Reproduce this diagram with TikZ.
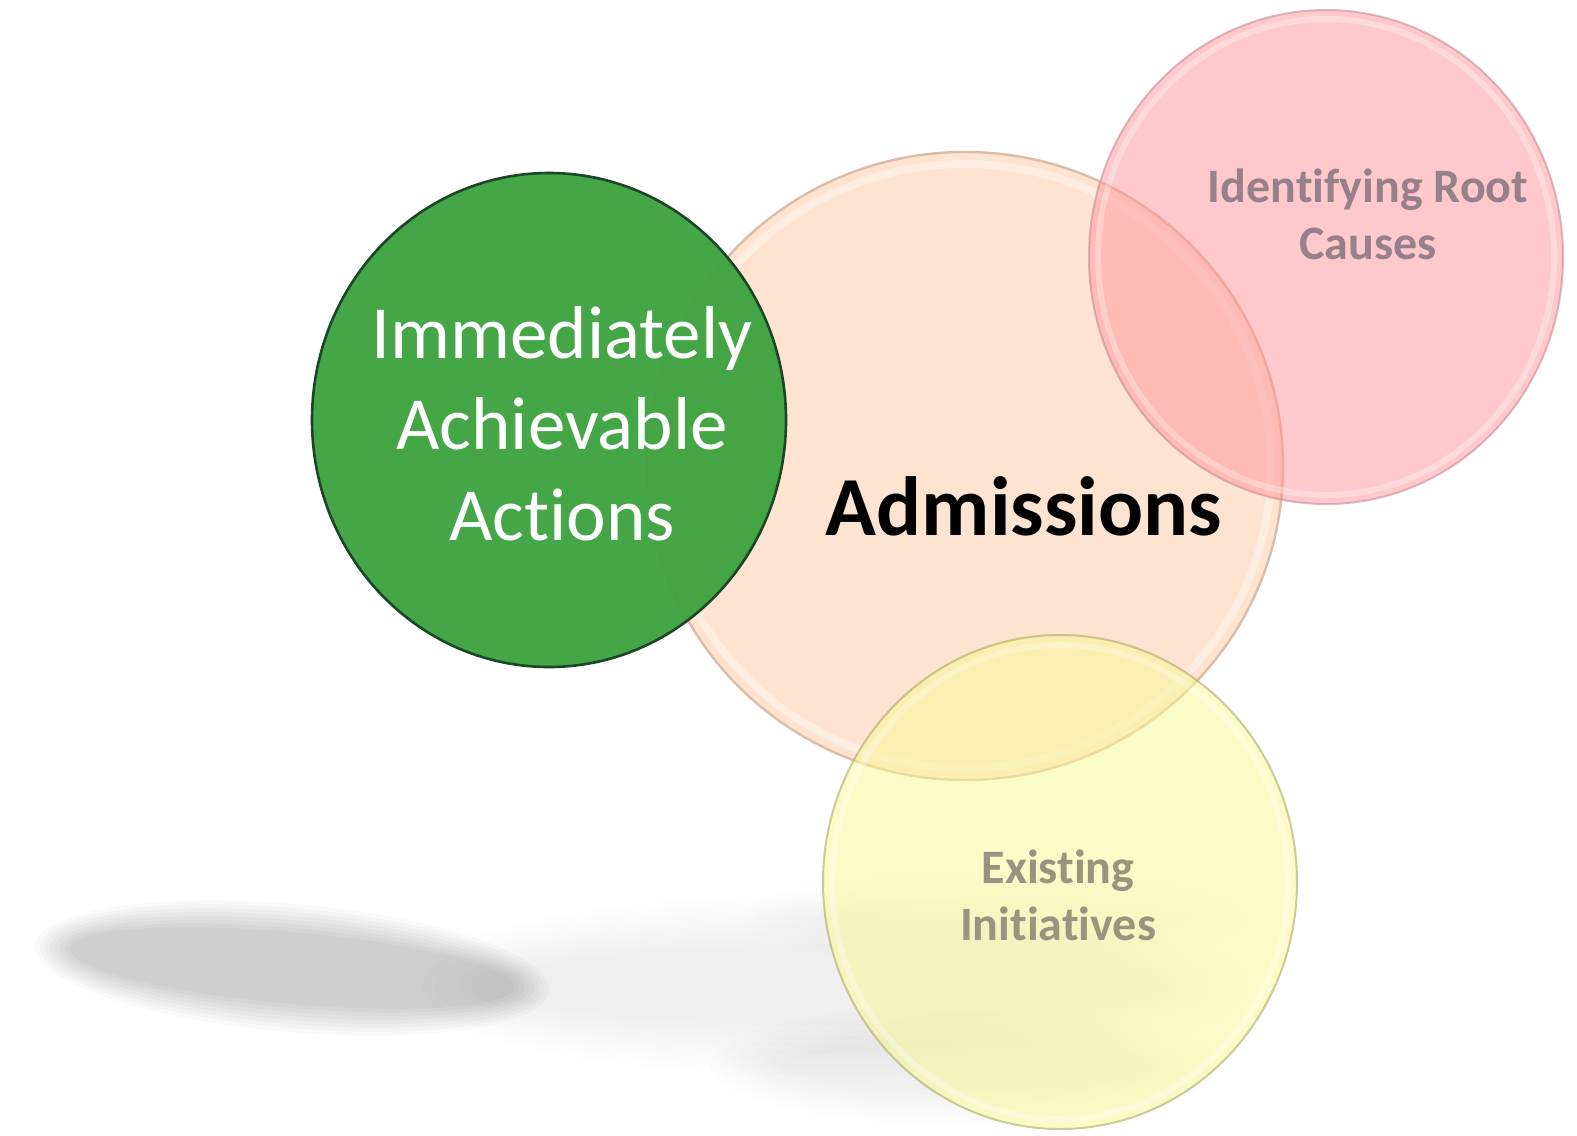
\documentclass[tikz,border=0pt]{standalone}
\usepackage{fontspec}
\setmainfont[Ligatures=NoCommon]{Carlito}
\usetikzlibrary{shapes.geometric}
\definecolor{peach}{RGB}{253,227,208}
\definecolor{peachedge}{RGB}{220,188,168}
\definecolor{pinkfill}{RGB}{255,147,151}
\definecolor{pinkedge}{RGB}{200,140,150}
\definecolor{yelfill}{RGB}{249,249,145}
\definecolor{yeledge}{RGB}{170,170,100}
\definecolor{grn}{RGB}{60,162,62}
\definecolor{grnedge}{RGB}{28,70,40}
\definecolor{pinktext}{RGB}{150,128,138}
\definecolor{yeltext}{RGB}{150,150,128}
\tikzset{
  bubble/.style={ellipse, inner sep=0pt, minimum width=237pt, minimum height=247pt},
  bigbubble/.style={ellipse, inner sep=0pt, minimum width=318pt, minimum height=314pt},
  softshadow/.style={fill=black, draw=none, opacity=#1},
  lbl/.style={align=center, inner sep=0pt}
}
\begin{document}
\begin{tikzpicture}[x=0.5pt,y=-0.5pt]
\useasboundingbox (0,0) rectangle (1577,1135);
\fill[white] (0,0) rectangle (1577,1135);
% soft shadows
\foreach \k in {0,...,7}{
  \fill[softshadow=0.006] (830,985) ellipse ({420-\k*12} and {90-\k*7});
  \fill[softshadow=0.005] (1000,918) ellipse ({255-\k*10} and {52-\k*5});
  \fill[softshadow=0.006] (965,1065) ellipse ({255-\k*10} and {60-\k*5});
}
\foreach \k in {0,...,7}{
  \fill[softshadow=0.022, rotate around={-5:(292,968)}] (292,968) ellipse ({258-\k*5} and {64-\k*4});
}
% circles
\node[bigbubble, fill=peach, draw=peachedge, line width=1.2pt] (adm) at (965,466) {};
\draw[white, opacity=0.35, line width=4pt] (965,466) ellipse (306 and 302);
\node[bubble, fill=pinkfill, fill opacity=0.5, draw=pinkedge, draw opacity=0.6, line width=1pt] (root) at (1326,257) {};
\draw[white, opacity=0.3, line width=3pt] (1326,257) ellipse (228 and 238);
\node[bubble, fill=yelfill, fill opacity=0.5, draw=yeledge, draw opacity=0.6, line width=1pt] (init) at (1060,882) {};
\draw[white, opacity=0.3, line width=3pt] (1060,882) ellipse (228 and 237);
\node[bubble, fill=grn, fill opacity=0.95, draw=grnedge, line width=1.3pt] (act) at (549,420) {};
% labels
\node[lbl, text=white, font=\fontsize{37.5}{45.5}\selectfont] (actlbl) at (562,424) {Immediately\\Achievable\\Actions};
\node[lbl, text=black, font=\bfseries\fontsize{42}{50}\selectfont] (admlbl) at (1024,506) {Admissions};
\node[lbl, text=pinktext, font=\bfseries\fontsize{24}{28.5}\selectfont] (rootlbl) at (1368,214) {Identifying Root\\Causes};
\node[lbl, text=yeltext, font=\bfseries\fontsize{24}{28.5}\selectfont] (initlbl) at (1058,895) {Existing\\Initiatives};
\end{tikzpicture}
\end{document}
